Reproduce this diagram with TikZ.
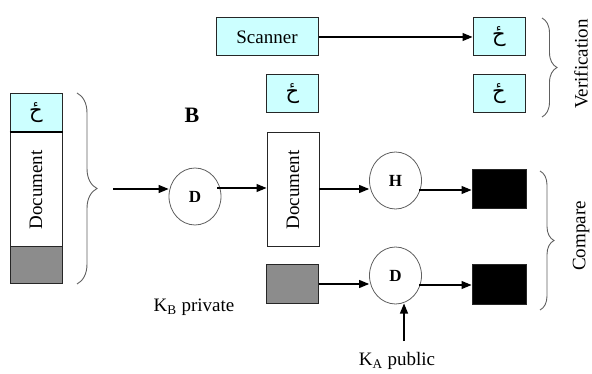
\documentclass[tikz,border=0pt]{standalone}
\usepackage{graphicx}
\usepackage{fontspec}
\setmainfont{Liberation Serif}
\newfontfamily\arabicfont[Script=Arabic]{DejaVu Sans}
\TeXXeTstate=1
\usetikzlibrary{arrows.meta,shapes.geometric,decorations.pathreplacing}
\definecolor{sigcyan}{HTML}{CCFFFF}
\definecolor{keygray}{HTML}{8C8C8C}
\definecolor{ringgray}{HTML}{606060}
\definecolor{bracegray}{HTML}{606060}
\newcommand{\sigmark}{{\arabicfont\beginR ځ\endR}}

\begin{document}
\begin{tikzpicture}[x=1pt,y=-1pt,
  txt/.style={font=\fontsize{19}{21}\selectfont, inner sep=0pt},
  frame/.style={draw=black!85, line width=1pt, inner sep=0pt},
  sigbox/.style={frame, fill=sigcyan, minimum width=52pt, minimum height=38pt,
    font=\fontsize{21}{21}\selectfont},
  docbox/.style={frame, fill=white, minimum width=52pt, minimum height=114pt,
    font=\fontsize{19}{21}\selectfont},
  keybox/.style={frame, fill=keygray, minimum width=52pt, minimum height=38pt},
  hashbox/.style={frame, fill=black, minimum width=54pt, minimum height=39pt},
  op/.style={ellipse, draw=ringgray, line width=0.8pt, fill=white, inner sep=0pt,
    minimum width=52pt, minimum height=57pt, font=\bfseries\fontsize{17}{17}\selectfont},
  arr/.style={line width=1.1pt, -{Triangle[length=10pt,width=8pt]}},
  curly/.style={draw=bracegray, line width=0.9pt, decorate,
    decoration={brace, amplitude=#1}},
]
\useasboundingbox (0,0) rectangle (592,374);

% --- signed document on the left ---
\node[sigbox] (sigL) at (36,112.5) {\sigmark};
\node[docbox] (docL) at (36,190) {\rotatebox{90}{Document}};
\node[keybox, minimum height=37pt] (grayL) at (36,265.5) {};
\draw[line width=2pt] (sigL.south west) -- (sigL.south east);

\coordinate (lbT) at (77,93);
\coordinate (lbB) at (77,284);
\draw[curly=20pt] (lbT) -- (lbB);

% --- decryption with the private key of B ---
\node[txt, font=\bfseries\fontsize{22}{22}\selectfont] (labB) at (192,115) {B};
\node[op] (D1) at (195,196.5) {D};
\coordinate (in0) at (113,189);
\draw[arr] (in0) -- (in0 -| D1.west);
\node[txt] (kb) at (194,307) {K\textsubscript{B} private};

\node[docbox] (docM) at (293,190) {\rotatebox{90}{Document}};
\coordinate (d1out) at (217,188);
\draw[arr] (d1out) -- (d1out -| docM.west);

% --- hashing and checking with the public key of A ---
\node[op] (H) at (395.5,180.5) {H};
\coordinate (hin) at (319,189);
\draw[arr] (hin) -- (hin -| H.west);
\node[hashbox] (blk1) at (499,189.5) {};
\coordinate (hout) at (419,190);
\draw[arr] (hout) -- (hout -| blk1.west);

\node[keybox] (grayM) at (292.5,284) {};
\node[op] (D2) at (395.5,275.5) {D};
\coordinate (gout) at (318.5,284);
\draw[arr] (gout) -- (gout -| D2.west);
\node[hashbox] (blk2) at (499,284.5) {};
\coordinate (d2out) at (419,285);
\draw[arr] (d2out) -- (d2out -| blk2.west);

\node[txt] (ka) at (397,361) {K\textsubscript{A} public};
\coordinate (kain) at (404,341);
\draw[arr] (kain) -- (404,303.5);

\coordinate (cbT) at (540,171);
\coordinate (cbB) at (540,310);
\draw[curly=14pt] (cbT) -- (cbB);
\node[txt] (cmp) at (581,236) {\rotatebox{90}{Compare}};

% --- scanning the signature ---
\node[sigbox, minimum width=102pt, font=\fontsize{19}{21}\selectfont] (scan) at (267,37) {Scanner};
\node[sigbox] (sigTR) at (499,37) {\sigmark};
\draw[arr] (scan.east) -- (sigTR.west);
\node[sigbox] (sigM) at (292.5,94) {\sigmark};
\node[sigbox] (sigR) at (499,94) {\sigmark};

\coordinate (vbT) at (542,18);
\coordinate (vbB) at (542,117);
\draw[curly=15pt] (vbT) -- (vbB);
\node[txt] (ver) at (581,64) {\rotatebox{90}{Verification}};
\end{tikzpicture}
\end{document}
